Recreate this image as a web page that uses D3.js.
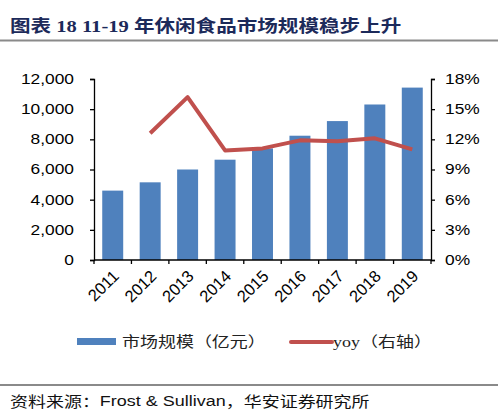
<!DOCTYPE html>
<html><head><meta charset="utf-8">
<script src="https://cdn.jsdelivr.net/npm/d3@7"></script>
<style>
html,body{margin:0;padding:0;background:#fff;}
svg{display:block;}
</style></head>
<body>
<svg id="c" width="498" height="416"></svg>
<script>
const years = ["2011","2012","2013","2014","2015","2016","2017","2018","2019"];
const marketSize = [4600, 5150, 6000, 6650, 7400, 8240, 9210, 10310, 11430];
const yoyYears = ["2012","2013","2014","2015","2016","2017","2018","2019"];
const yoy = [12.6, 16.2, 10.9, 11.1, 11.9, 11.8, 12.1, 11.0];
const leftTicks = [0, 2000, 4000, 6000, 8000, 10000, 12000];
const rightTicks = [0, 3, 6, 9, 12, 15, 18];
const titleText = "图表 18 11-19 年休闲食品市场规模稳步上升";
const legendBar = "市场规模（亿元）";
const legendLine = "yoy（右轴）";
const sourceText = "资料来源：Frost & Sullivan，华安证券研究所";

const SX = 1.24;
const svg = d3.select("#c");
const L = 94, R = 431, T = 79, B = 260;
const x = d3.scaleBand().domain(years).range([L, R]).paddingInner(0.44).paddingOuter(0.22);
const xb = d3.scaleBand().domain(years).range([L, R]);
const yL = d3.scaleLinear().domain([0, 12000]).range([B, T]);
const yR = d3.scaleLinear().domain([0, 18]).range([B, T]);
const fmt = d3.format(",");
const sans = "'Liberation Sans', Arial, sans-serif";
const cjk = "'Liberation Serif', 'Noto Sans CJK SC', serif";

function stext(g, xx, yy, txt, opts) {
  const t = g.append("text")
    .attr("transform", `translate(${xx},${yy}) scale(${opts.sx || SX},1)`)
    .attr("font-family", opts.family || sans)
    .attr("font-size", opts.size || 14)
    .attr("fill", opts.fill || "#000")
    .attr("text-anchor", opts.anchor || "start")
    .attr("dominant-baseline", opts.baseline || "central")
    .text(txt);
  if (opts.weight) t.attr("font-weight", opts.weight);
  return t;
}

// title
stext(svg, 10, 26, titleText, {family: cjk, size: 17, weight: "bold", fill: "#1c2a5a", sx: 1.21});
svg.append("line").attr("x1", 0).attr("x2", 498).attr("y1", 40.5).attr("y2", 40.5)
  .attr("stroke", "#8a8a8a").attr("stroke-width", 2);

// bars
svg.append("g").selectAll("rect").data(years).join("rect")
  .attr("x", d => x(d))
  .attr("width", x.bandwidth())
  .attr("y", (d, i) => yL(marketSize[i]))
  .attr("height", (d, i) => B - yL(marketSize[i]))
  .attr("fill", "#4f81bd");

// line
const line = d3.line().x(d => xb(d[0]) + xb.bandwidth() / 2).y(d => yR(d[1]));
svg.append("path").datum(yoyYears.map((y, i) => [y, yoy[i]]))
  .attr("d", line).attr("fill", "none").attr("stroke", "#c0504d")
  .attr("stroke-width", 4).attr("stroke-linejoin", "round");

// left axis
const gl = svg.append("g").attr("transform", `translate(${L},0)`)
  .call(d3.axisLeft(yL).tickValues(leftTicks).tickSize(4).tickFormat(""));
gl.select(".domain").attr("stroke", "#000").attr("stroke-width", 1.3);
gl.selectAll(".tick line").attr("stroke", "#000").attr("stroke-width", 1.3);
leftTicks.forEach(v => stext(svg, L - 20, yL(v), fmt(v), {anchor: "end", size: 14}));

// right axis
const gr = svg.append("g").attr("transform", `translate(${R},0)`)
  .call(d3.axisRight(yR).tickValues(rightTicks).tickSize(4).tickFormat(""));
gr.select(".domain").attr("stroke", "#000").attr("stroke-width", 1.3);
gr.selectAll(".tick line").attr("stroke", "#000").attr("stroke-width", 1.3);
rightTicks.forEach(v => stext(svg, R + 14, yR(v), v + "%", {size: 14}));

// bottom axis
svg.append("line").attr("x1", L).attr("x2", R).attr("y1", B).attr("y2", B)
  .attr("stroke", "#000").attr("stroke-width", 1.3);
const bounds = years.map(d => xb(d)).concat([R]);
svg.append("g").selectAll("line").data(bounds).join("line")
  .attr("x1", d => d).attr("x2", d => d).attr("y1", B).attr("y2", B + 4)
  .attr("stroke", "#000").attr("stroke-width", 1.3);
years.forEach(d => {
  svg.append("text")
    .attr("transform", `translate(${xb(d) + xb.bandwidth() / 2 + 3},${B + 13}) rotate(-45)`)
    .attr("text-anchor", "end").attr("dominant-baseline", "central")
    .attr("font-family", sans).attr("font-size", 16.5).attr("fill", "#000")
    .text(d);
});

// legend
svg.append("rect").attr("x", 77).attr("y", 338).attr("width", 39).attr("height", 7).attr("fill", "#4f81bd");
stext(svg, 122, 342, legendBar, {family: cjk, size: 14.5, fill: "#222"});
svg.append("line").attr("x1", 291).attr("x2", 332).attr("y1", 342).attr("y2", 342)
  .attr("stroke", "#c0504d").attr("stroke-width", 4).attr("stroke-linecap", "round");
stext(svg, 333, 342, legendLine, {family: cjk, size: 14.5, fill: "#222"});

// footer
svg.append("line").attr("x1", 0).attr("x2", 498).attr("y1", 385).attr("y2", 385)
  .attr("stroke", "#8a8a8a").attr("stroke-width", 2);
const ft = svg.append("text")
  .attr("transform", `translate(10,401) scale(${SX},1)`)
  .attr("font-size", 14.5).attr("fill", "#111").attr("dominant-baseline", "central");
ft.append("tspan").attr("font-family", "'Noto Sans CJK SC', serif").text("资料来源：");
ft.append("tspan").attr("font-family", sans).text("Frost & Sullivan");
ft.append("tspan").attr("font-family", "'Noto Sans CJK SC', serif").text("，华安证券研究所");
</script>
</body></html>
